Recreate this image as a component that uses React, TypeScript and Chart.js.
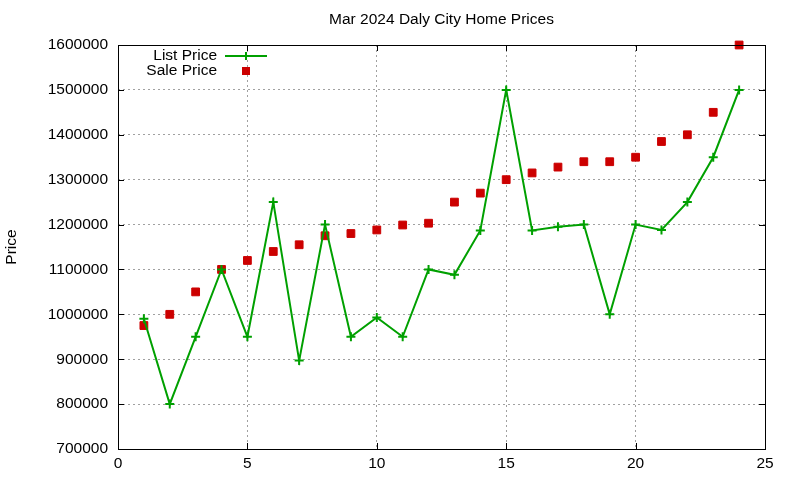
import React, { useEffect, useRef } from "react";
import { Chart, registerables, Plugin } from "chart.js";

Chart.register(...registerables);

const days = [1, 2, 3, 4, 5, 6, 7, 8, 9, 10, 11, 12, 13, 14, 15, 16, 17, 18, 19, 20, 21, 22, 23, 24];

const listPrice = [
  990000, 800000, 950000, 1100000, 950000, 1250000, 897000, 1200000, 950000, 993000, 950000, 1100000,
  1088000, 1187000, 1500000, 1187000, 1195000, 1200000, 1000000, 1200000, 1188000, 1250000, 1350000, 1500000,
];

const salePrice = [
  975000, 1000000, 1050000, 1100000, 1120000, 1140000, 1155000, 1175000, 1180000, 1188000, 1199000, 1203000,
  1250000, 1270000, 1300000, 1315000, 1328000, 1340000, 1340000, 1350000, 1385000, 1400000, 1450000, 1600000,
];

const titleText = "Mar 2024 Daly City Home Prices";
const yLabel = "Price";
const legendLabels = ["List Price", "Sale Price"];

const FAMILY = '"Liberation Sans", Arial, Helvetica, sans-serif';
const SIZE = 15.5;
const GREEN = "#00a000";
const RED = "#cc0000";

// gnuplot look: frame, inward mirrored tics, title, ylabel, key
const gnuplotDecor: Plugin<"line"> = {
  id: "gnuplotDecor",
  afterDraw(chart) {
    const { ctx, chartArea: a, scales } = chart;
    const font = `${SIZE}px ${FAMILY}`;
    ctx.save();

    ctx.strokeStyle = "#000";
    ctx.lineWidth = 1;
    ctx.strokeRect(a.left + 0.5, a.top + 0.5, a.right - a.left, a.bottom - a.top);

    const tic = 6;
    ctx.beginPath();
    scales.x.ticks.forEach((t) => {
      const px = Math.round(scales.x.getPixelForValue(t.value)) + 0.5;
      ctx.moveTo(px, a.bottom);
      ctx.lineTo(px, a.bottom - tic);
      ctx.moveTo(px, a.top);
      ctx.lineTo(px, a.top + tic);
    });
    scales.y.ticks.forEach((t) => {
      const py = Math.round(scales.y.getPixelForValue(t.value)) + 0.5;
      ctx.moveTo(a.left, py);
      ctx.lineTo(a.left + tic, py);
      ctx.moveTo(a.right, py);
      ctx.lineTo(a.right - tic, py);
    });
    ctx.stroke();

    ctx.fillStyle = "#000";
    ctx.font = font;
    ctx.textBaseline = "middle";
    ctx.textAlign = "center";
    ctx.fillText(titleText, (a.left + a.right) / 2, 20);

    ctx.save();
    ctx.translate(12, (a.top + a.bottom) / 2);
    ctx.rotate(-Math.PI / 2);
    ctx.fillText(yLabel, 0, 0);
    ctx.restore();

    // key
    ctx.textAlign = "right";
    ctx.fillText(legendLabels[0], 217, 56);
    ctx.fillText(legendLabels[1], 217, 71);

    ctx.strokeStyle = GREEN;
    ctx.lineWidth = 2;
    ctx.beginPath();
    ctx.moveTo(225, 56);
    ctx.lineTo(267, 56);
    ctx.moveTo(246, 52);
    ctx.lineTo(246, 60);
    ctx.stroke();

    ctx.fillStyle = RED;
    ctx.fillRect(242, 67, 8, 8);

    ctx.restore();
  },
};

const App: React.FC = () => {
  const canvasRef = useRef<HTMLCanvasElement | null>(null);
  const chartRef = useRef<Chart<"line"> | null>(null);

  useEffect(() => {
    if (!canvasRef.current) return;
    if (chartRef.current) chartRef.current.destroy();

    const tickFont = { family: FAMILY, size: SIZE };

    chartRef.current = new Chart(canvasRef.current, {
      type: "line",
      data: {
        datasets: [
          {
            label: legendLabels[0],
            data: days.map((d, i) => ({ x: d, y: listPrice[i] })),
            borderColor: GREEN,
            backgroundColor: GREEN,
            borderWidth: 2,
            pointStyle: "cross",
            pointRadius: 4.5,
            pointBorderWidth: 2,
            tension: 0,
            clip: false,
          },
          {
            label: legendLabels[1],
            data: days.map((d, i) => ({ x: d, y: salePrice[i] })),
            showLine: false,
            borderColor: RED,
            backgroundColor: RED,
            pointStyle: "rect",
            pointRadius: 5.5,
            pointBorderWidth: 1,
            clip: false,
          },
        ],
      },
      options: {
        responsive: false,
        animation: false,
        layout: { padding: { top: 45, right: 35, left: 0, bottom: 0 } },
        plugins: {
          legend: { display: false },
          tooltip: { enabled: false },
        },
        scales: {
          x: {
            type: "linear",
            min: 0,
            max: 25,
            ticks: { stepSize: 5, color: "#000", font: tickFont, padding: 5, maxRotation: 0 },
            grid: { color: "#a0a0a0", lineWidth: 1, drawTicks: false },
            border: { display: false, dash: [2, 3] },
            afterFit: (scale) => {
              scale.height = 31;
            },
          },
          y: {
            min: 700000,
            max: 1600000,
            ticks: {
              stepSize: 100000,
              color: "#000",
              font: tickFont,
              padding: 10,
              callback: (value) => String(value),
            },
            grid: { color: "#a0a0a0", lineWidth: 1, drawTicks: false },
            border: { display: false, dash: [2, 3] },
            afterFit: (scale) => {
              scale.width = 118;
            },
          },
        },
      },
      plugins: [gnuplotDecor],
    });

    return () => {
      if (chartRef.current) {
        chartRef.current.destroy();
        chartRef.current = null;
      }
    };
  }, []);

  return (
    <div style={{ position: "absolute", left: 0, top: 0, width: 800, height: 480, background: "#fff" }}>
      <canvas ref={canvasRef} width={800} height={480} style={{ width: 800, height: 480 }} />
    </div>
  );
};

export default App;
